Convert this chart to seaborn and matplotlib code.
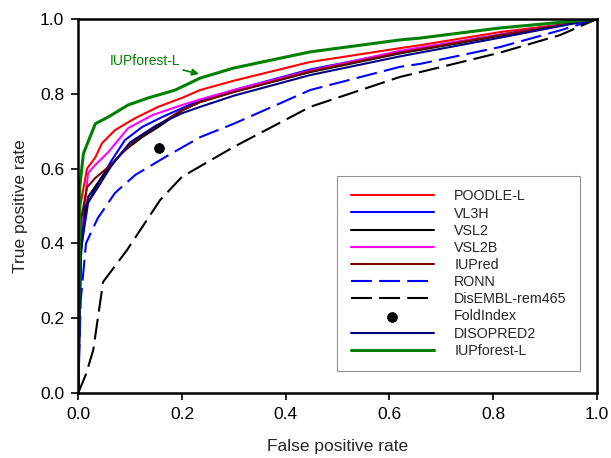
import numpy as np
import pandas as pd
import seaborn as sns
import matplotlib.pyplot as plt

# ROC curves (false positive rate, true positive rate)
poodle_fpr = [0, 0.004, 0.017, 0.033, 0.046, 0.071, 0.11, 0.154, 0.20, 0.235, 0.30, 0.447, 0.62, 0.659, 0.813, 0.93, 1.0]
poodle_tpr = [0, 0.50, 0.60, 0.63, 0.668, 0.703, 0.735, 0.765, 0.789, 0.81, 0.835, 0.885, 0.922, 0.93, 0.965, 0.985, 1.0]

vl3h_fpr = [0, 0.005, 0.019, 0.038, 0.065, 0.09, 0.123, 0.162, 0.235, 0.30, 0.447, 0.62, 0.813, 1.0]
vl3h_tpr = [0, 0.38, 0.508, 0.56, 0.623, 0.676, 0.711, 0.738, 0.783, 0.81, 0.865, 0.912, 0.958, 1.0]

vsl2_fpr = [0, 0.005, 0.019, 0.046, 0.085, 0.123, 0.154, 0.20, 0.235, 0.30, 0.447, 0.62, 0.813, 1.0]
vsl2_tpr = [0, 0.40, 0.524, 0.578, 0.644, 0.684, 0.711, 0.755, 0.778, 0.805, 0.858, 0.908, 0.955, 1.0]

vsl2b_fpr = [0, 0.005, 0.019, 0.033, 0.058, 0.096, 0.143, 0.20, 0.235, 0.30, 0.447, 0.62, 0.813, 1.0]
vsl2b_tpr = [0, 0.40, 0.588, 0.61, 0.644, 0.708, 0.743, 0.77, 0.785, 0.81, 0.862, 0.915, 0.958, 1.0]

iupred_fpr = [0, 0.005, 0.017, 0.033, 0.058, 0.11, 0.148, 0.20, 0.235, 0.30, 0.447, 0.62, 0.813, 1.0]
iupred_tpr = [0, 0.46, 0.55, 0.575, 0.604, 0.676, 0.711, 0.757, 0.778, 0.805, 0.86, 0.91, 0.957, 1.0]

ronn_fpr = [0, 0.005, 0.015, 0.027, 0.038, 0.071, 0.11, 0.168, 0.235, 0.30, 0.447, 0.62, 0.659, 0.813, 0.93, 1.0]
ronn_tpr = [0, 0.25, 0.40, 0.436, 0.468, 0.535, 0.583, 0.631, 0.684, 0.72, 0.81, 0.872, 0.88, 0.925, 0.97, 1.0]

disembl_fpr = [0, 0.015, 0.029, 0.048, 0.094, 0.158, 0.20, 0.30, 0.447, 0.62, 0.659, 0.813, 0.929, 1.0]
disembl_tpr = [0, 0.05, 0.115, 0.297, 0.382, 0.516, 0.578, 0.658, 0.765, 0.845, 0.858, 0.91, 0.957, 1.0]

foldindex_fpr = [0.156]
foldindex_tpr = [0.655]

disopred_fpr = [0, 0.005, 0.013, 0.038, 0.065, 0.10, 0.15, 0.20, 0.235, 0.30, 0.447, 0.62, 0.813, 1.0]
disopred_tpr = [0, 0.36, 0.497, 0.55, 0.61, 0.67, 0.715, 0.748, 0.765, 0.795, 0.85, 0.90, 0.95, 1.0]

iupforest_fpr = [0, 0.003, 0.01, 0.033, 0.058, 0.096, 0.135, 0.187, 0.235, 0.30, 0.447, 0.62, 0.659, 0.813, 1.0]
iupforest_tpr = [0, 0.55, 0.64, 0.72, 0.738, 0.77, 0.789, 0.81, 0.842, 0.869, 0.912, 0.944, 0.949, 0.976, 1.0]


def main():
  sns.set_theme(style="white")
  plt.rcParams['font.family'] = ['Liberation Sans', 'DejaVu Sans']

  fig = plt.figure(figsize=(6.11, 4.58), dpi=100)
  ax = fig.add_axes([0.128, 0.142, 0.849, 0.8165])

  curves = [
    ("POODLE-L", poodle_fpr, poodle_tpr, "#ff0000", None, 1.5),
    ("VL3H", vl3h_fpr, vl3h_tpr, "#0000ff", None, 1.5),
    ("VSL2", vsl2_fpr, vsl2_tpr, "#000000", None, 1.5),
    ("VSL2B", vsl2b_fpr, vsl2b_tpr, "#ff00ff", None, 1.5),
    ("IUPred", iupred_fpr, iupred_tpr, "#800000", None, 1.5),
    ("RONN", ronn_fpr, ronn_tpr, "#0000ff", (10, 3.5), 1.5),
    ("DisEMBL-rem465", disembl_fpr, disembl_tpr, "#000000", (10, 3.5), 1.5),
  ]
  for name, fx, fy, col, dash, lw in curves:
    sns.lineplot(x=fx, y=fy, ax=ax, color=col, lw=lw, label=name,
                 sort=False, estimator=None)
    if dash is not None:
      ax.lines[-1].set_dashes(dash)

  # single point
  sns.scatterplot(x=foldindex_fpr, y=foldindex_tpr, ax=ax, color="black",
                  s=50, edgecolor="black", label="FoldIndex", zorder=5)

  sns.lineplot(x=disopred_fpr, y=disopred_tpr, ax=ax, color="#000080", lw=1.5,
               label="DISOPRED2", sort=False, estimator=None)
  sns.lineplot(x=iupforest_fpr, y=iupforest_tpr, ax=ax, color="#008000", lw=2.2,
               label="IUPforest-L", sort=False, estimator=None)

  ax.annotate("IUPforest-L", xy=(0.233, 0.853), xytext=(0.06, 0.889),
              color="#008000", fontsize=10, va="center",
              arrowprops=dict(arrowstyle="-|>", color="#008000", lw=1.2,
                              shrinkA=0, shrinkB=0))

  ax.set_xlim(0, 1)
  ax.set_ylim(0, 1)
  ticks = [0, 0.2, 0.4, 0.6, 0.8, 1.0]
  ax.set_xticks(ticks)
  ax.set_yticks(ticks)
  ax.set_xticklabels(["%.1f" % t for t in ticks], fontsize=12.5)
  ax.set_yticklabels(["%.1f" % t for t in ticks], fontsize=12.5)
  ax.tick_params(axis="both", direction="out", length=5, width=1.2,
                 bottom=True, left=True, colors="black", pad=5)
  ax.set_xlabel("False positive rate", fontsize=12.5, labelpad=12)
  ax.set_ylabel("True positive rate", fontsize=12.5, labelpad=9)
  for sp in ax.spines.values():
    sp.set_color("black")
    sp.set_linewidth(1.8)

  leg = ax.legend(loc="lower right", bbox_to_anchor=(0.968, 0.058), fontsize=10.3,
                  frameon=True, fancybox=False, handlelength=5.8,
                  handletextpad=1.45, labelspacing=0.22, borderpad=0.95,
                  borderaxespad=0)
  leg.get_frame().set_edgecolor("#777777")
  leg.get_frame().set_linewidth(0.8)

  plt.savefig("out.png", dpi=100)


if __name__ == "__main__":
  main()
